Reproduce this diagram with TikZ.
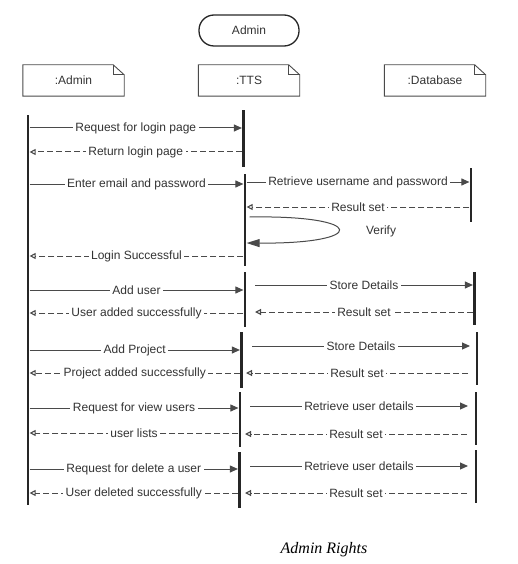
\documentclass[tikz,border=0pt]{standalone}
\usepackage{fontspec}
\setmainfont{Liberation Sans}
\newfontfamily\captionserif{Liberation Serif}
\usepackage{tikz}
\usetikzlibrary{arrows.meta,positioning,calc}
\definecolor{linegray}{HTML}{4a4a4a}
\definecolor{labeltext}{HTML}{333333}
\definecolor{barblack}{HTML}{262626}

\begin{document}
\begin{tikzpicture}[x=1pt,y=-1pt,
    lbl/.style={fill=white,text=labeltext,font=\fontsize{12}{14}\selectfont,inner xsep=2.5pt,inner ysep=1pt},
    callmsg/.style={draw=linegray,line width=1pt,-{Triangle[length=8pt,width=7pt]}},
    replymsg/.style={draw=linegray,line width=1pt,dash pattern=on 6pt off 3pt,-{Triangle[open,length=6pt,width=6pt,line width=1.1pt]}},
    bar/.style={fill=barblack,minimum width=2.8pt,inner sep=0pt},
    objbox/.style={minimum width=101pt,minimum height=31pt,inner sep=0pt,text=labeltext,font=\fontsize{12}{14}\selectfont}]
      \useasboundingbox (0,0) rectangle (518,564);
      % Actor
      \node[draw=barblack,line width=1.3pt,rounded corners=15pt,minimum width=100pt,minimum height=31pt,text=labeltext,font=\fontsize{12}{14}\selectfont] (actor) at (249,30.5) {Admin};
      % Objects
      \node[objbox] (oadm) at (73.5,80.5) {:Admin};
      \node[objbox] (otts) at (249,80.5) {:TTS};
      \node[objbox] (odb) at (435,80.5) {:Database};
      \foreach \o in {oadm,otts,odb}{
        \draw[linegray,line width=0.9pt] (\o.north west) -- ([xshift=-11pt]\o.north east) -- ([yshift=-10pt]\o.north east) -- (\o.south east) -- (\o.south west) -- cycle;
        \draw[linegray,line width=0.9pt] ([xshift=-11pt]\o.north east) -- ([xshift=-11pt,yshift=-10pt]\o.north east) -- ([yshift=-10pt]\o.north east);
      }
      % Activation bars
      \node[bar,minimum height=390pt] (adm) at (28,310) {};
      \node[bar,minimum height=57pt] (t1) at (243.5,138.5) {};
      \node[bar,minimum height=92pt] (t2) at (245,220) {};
      \node[bar,minimum height=55pt] (t3) at (245,299.5) {};
      \node[bar,minimum height=56pt] (t4) at (241.5,360) {};
      \node[bar,minimum height=55pt] (t5) at (240,419.5) {};
      \node[bar,minimum height=56pt] (t6) at (239.5,480) {};
      \node[bar,minimum height=54pt] (d1) at (471,195) {};
      \node[bar,minimum height=53pt] (d2) at (474.5,298.5) {};
      \node[bar,minimum height=53pt] (d3) at (477,358.5) {};
      \node[bar,minimum height=53pt] (d4) at (476,418.5) {};
      \node[bar,minimum height=53pt] (d5) at (476,476.5) {};
      % Free ends
      \coordinate (sd1) at (255,285);
      \coordinate (rs1) at (255,312);
      \coordinate (sd2) at (252,346);
      \coordinate (sd2e) at (470,346);
      \coordinate (rs2) at (468,373);
      \coordinate (rs2e) at (246,373);
      \coordinate (ru1) at (250,406);
      \coordinate (ru1e) at (468,406);
      \coordinate (rs3) at (467,434);
      \coordinate (rs3e) at (245,434);
      \coordinate (ru2) at (250,466);
      \coordinate (ru2e) at (468,466);
      \coordinate (rs4) at (467,493);
      \coordinate (rs4e) at (245,493);
      % Login
      \draw[callmsg] (adm.east |- 0,128) -- (t1.west |- 0,128) node[lbl,midway] {Request for login page};
      \draw[replymsg] (t1.west |- 0,152) -- (adm.east |- 0,152) node[lbl,midway] {Return login page};
      \draw[callmsg] (adm.east |- 0,184) -- (t2.west |- 0,184) node[lbl,midway] {Enter email and password};
      \draw[callmsg] (t2.east |- 0,182) -- (d1.west |- 0,182) node[lbl,midway] {Retrieve username and password};
      \draw[replymsg] (d1.west |- 0,207) -- (t2.east |- 0,207) node[lbl,midway] {Result set};
      \draw[draw=linegray,line width=1pt,-{Triangle[length=13pt,width=8pt]}] ([xshift=3pt]t2.east |- 0,217) .. controls (368,215) and (368,244) .. (t2.east |- 0,243);
      \node[text=labeltext,font=\fontsize{12}{14}\selectfont] (verify) at (381,231) {Verify};
      \draw[replymsg] (t2.west |- 0,256) -- (adm.east |- 0,256) node[lbl,midway] {Login Successful};
      % Add user
      \draw[callmsg] (adm.east |- 0,290) -- (t3.west |- 0,290) node[lbl,midway] {Add user};
      \draw[callmsg] (sd1) -- (d2.west |- sd1) node[lbl,midway] {Store Details};
      \draw[replymsg] (d2.west |- rs1) -- (rs1) node[lbl,midway] {Result set};
      \draw[replymsg] (t3.west |- 0,313) -- (adm.east |- 0,313) node[lbl,midway] {User added successfully};
      % Add project
      \draw[callmsg] (adm.east |- 0,350) -- (t4.west |- 0,350) node[lbl,midway] {Add Project};
      \draw[callmsg] (sd2) -- (sd2e) node[lbl,midway] {Store Details};
      \draw[replymsg] (t4.west |- 0,373) -- (adm.east |- 0,373) node[lbl,midway] {Project added successfully};
      \draw[replymsg] (rs2) -- (rs2e) node[lbl,midway] {Result set};
      % View users
      \draw[callmsg] (adm.east |- 0,408) -- (t5.west |- 0,408) node[lbl,midway] {Request for view users};
      \draw[callmsg] (ru1) -- (ru1e) node[lbl,midway] {Retrieve user details};
      \draw[replymsg] (t5.west |- 0,433) -- (adm.east |- 0,433) node[lbl,midway] {user lists};
      \draw[replymsg] (rs3) -- (rs3e) node[lbl,midway] {Result set};
      % Delete user
      \draw[callmsg] (adm.east |- 0,469) -- (t6.west |- 0,469) node[lbl,midway] {Request for delete a user};
      \draw[callmsg] (ru2) -- (ru2e) node[lbl,midway] {Retrieve user details};
      \draw[replymsg] (t6.west |- 0,493) -- (adm.east |- 0,493) node[lbl,midway] {User deleted successfully};
      \draw[replymsg] (rs4) -- (rs4e) node[lbl,midway] {Result set};
      % Caption
      \node[font=\captionserif\itshape\fontsize{16}{18}\selectfont] (caption) at (324,550) {Admin Rights};
    \end{tikzpicture}
\end{document}
